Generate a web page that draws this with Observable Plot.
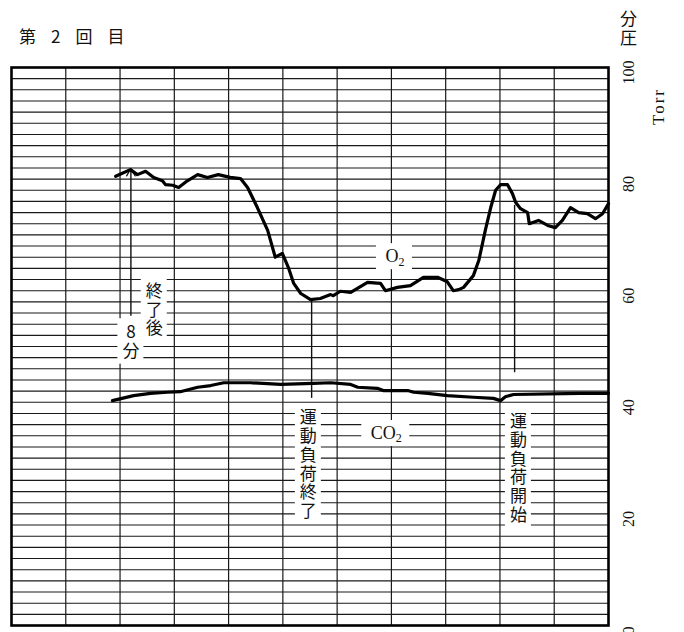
<!DOCTYPE html>
<html><head><meta charset="utf-8">
<script src="https://cdn.jsdelivr.net/npm/d3@7"></script>
<script src="https://cdn.jsdelivr.net/npm/@observablehq/plot@0.6"></script>
<style>
body{margin:0;background:#fff;}
#wrap{position:relative;width:684px;height:632px;overflow:hidden;background:#fff;}
#wrap svg{position:absolute;left:0;top:0;}
.ov{position:absolute;color:#111;white-space:nowrap;}
</style></head><body>
<div id="wrap">
  <div class="ov" style="left:19px;top:27px;font-size:17px;line-height:17px;font-family:'Noto Sans CJK JP';letter-spacing:5.6px;">第 2 回 目</div>
  <div class="ov" style="left:620px;top:9px;font-size:17px;line-height:17px;font-family:'Noto Sans CJK JP';">分</div>
  <div class="ov" style="left:620px;top:28px;font-size:17px;line-height:17px;font-family:'Noto Sans CJK JP';">圧</div>
  <div class="ov" style="left:639px;top:98px;width:38px;text-align:center;font-size:17px;line-height:17px;font-family:'Liberation Serif';letter-spacing:2px;transform:rotate(-90deg);">Torr</div>
</div>
<script>
// ---- data (time in grid divisions, partial pressure in Torr) ----
const o2Time = [1.92,2.19,2.32,2.47,2.62,2.78,2.84,2.97,3.08,3.24,3.43,3.61,3.81,4.03,4.22,4.35,4.53,4.72,4.86,4.99,5.10,5.20,5.33,5.51,5.69,5.88,5.93,6.06,6.25,6.56,6.80,6.89,7.11,7.35,7.59,7.85,8.03,8.14,8.24,8.33,8.51,8.61,8.73,8.83,8.92,9.01,9.14,9.23,9.29,9.38,9.51,9.54,9.71,9.88,10.02,10.15,10.30,10.45,10.61,10.76,10.89,11.0];
const o2Torr = [80.5,81.7,80.8,81.4,80.3,79.7,79.0,78.9,78.5,79.7,80.8,80.3,80.8,80.3,80.1,78.5,74.9,70.8,66.0,66.7,64.2,61.3,59.5,58.4,58.6,59.3,59.1,59.9,59.7,61.5,61.3,60.0,60.6,60.9,62.4,62.4,61.6,60.0,60.2,60.6,62.7,65.4,70.8,74.9,78.0,79.0,79.0,77.4,75.8,74.7,74.0,72.0,72.6,71.7,71.3,72.6,74.9,74.0,73.8,72.9,73.8,75.6];
const co2Time = [1.86,2.25,2.56,2.87,3.11,3.43,3.67,3.91,4.40,4.96,5.56,5.88,6.25,6.38,6.74,6.85,7.30,7.41,7.67,8.03,8.51,8.88,9.01,9.10,9.25,10.48,11.0];
const co2Torr = [40.3,41.2,41.6,41.8,41.9,42.7,43.0,43.5,43.5,43.2,43.4,43.5,43.2,42.7,42.5,42.1,42.1,41.8,41.6,41.2,40.9,40.7,40.3,41.0,41.4,41.6,41.6];
const yTicks = [0,20,40,60,80,100];

// annotation anchors
const arrowTime = [2.2], arrowFrom = [55.6], arrowTo = [81.9];
const markTime = [5.53, 9.27], markTop = [58.2, 75.3], markBottom = [40.7, 45.3];
const vLabelText = ["8分", "終了後", "運動負荷終了", "運動負荷開始"];
const vLabelTime = [2.2, 2.63, 5.47, 9.34];
const vLabelTorr = [50.9, 56.6, 28.9, 28.2];
const gasBase = ["O", "CO"], gasSub = ["2", "2"];
const gasTime = [6.89, 6.62], gasTorr = [66.1, 34.4];

// ---- layout ----
const W = 684, H = 632, mL = 11, mR = 76, mT = 67, mB = 7;
const ux = 11 / (W - mL - mR), uy = 100 / (H - mT - mB); // data units per pixel
const fs = 17, lh = 1.1;

const ctx = document.createElement("canvas").getContext("2d");
const measure = (s, size) => { ctx.font = `${size}px 'Liberation Serif'`; return ctx.measureText(s).width; };

// ---- build tables ----
const o2 = o2Time.map((t, i) => ({t, v: o2Torr[i]}));
const co2 = co2Time.map((t, i) => ({t, v: co2Torr[i]}));
const arrows = arrowTime.map((t, i) => ({t, a: arrowFrom[i], b: arrowTo[i]}));
const marks = markTime.map((t, i) => ({t, a: markTop[i], b: markBottom[i]}));
const vLabels = vLabelText.map((s, i) => ({s: Array.from(s).join("\n"), n: Array.from(s).length, t: vLabelTime[i], v: vLabelTorr[i]}));
const gas = gasBase.map((s, i) => ({s, sub: gasSub[i], t: gasTime[i], v: gasTorr[i], w: measure(s, 18), ws: measure(gasSub[i], 12)}));

// white boxes behind labels (as on the chart paper)
const boxes = [
  ...vLabels.map(d => ({x1: d.t - 13 * ux, x2: d.t + 13 * ux,
    y1: d.v - (d.n * fs * lh / 2 + 4) * uy, y2: d.v + (d.n * fs * lh / 2 + 4) * uy})),
  ...gas.map(d => ({x1: d.t - 9 * ux, x2: d.t + (d.w + d.ws + 8) * ux, y1: d.v - 13 * uy, y2: d.v + 13 * uy}))
];

const plot = Plot.plot({
  width: W, height: H,
  marginLeft: mL, marginRight: mR, marginTop: mT, marginBottom: mB,
  x: {domain: [0, 11], axis: null},
  y: {domain: [0, 100], axis: null},
  style: {background: "transparent", overflow: "visible"},
  marks: [
    Plot.ruleY(d3.range(2, 100, 2), {stroke: "#1a1a1a", strokeWidth: 1.1}),
    Plot.ruleX(d3.range(1, 11), {stroke: "#1a1a1a", strokeWidth: 1.2}),
    Plot.rect(boxes, {x1: "x1", x2: "x2", y1: "y1", y2: "y2", fill: "white"}),
    Plot.frame({stroke: "#000", strokeWidth: 2.6}),
    Plot.text(vLabels, {x: "t", y: "v", text: "s", lineHeight: lh, fontSize: fs,
      fontFamily: "Noto Sans CJK JP", fill: "#111"}),
    Plot.text(gas, {x: "t", y: "v", text: "s", textAnchor: "start", fontSize: 18,
      fontFamily: "Liberation Serif", fill: "#111"}),
    ...gas.map(d => Plot.text([d], {x: "t", y: "v", text: "sub", textAnchor: "start", fontSize: 12,
      dx: d.w, dy: 5, fontFamily: "Liberation Serif", fill: "#111"})),
    Plot.ruleX(marks, {x: "t", y1: "a", y2: "b", stroke: "#111", strokeWidth: 1.4}),
    Plot.arrow(arrows, {x1: "t", y1: "a", x2: "t", y2: "b", stroke: "#111", strokeWidth: 1.4, headLength: 9}),
    Plot.line(o2, {x: "t", y: "v", stroke: "#000", strokeWidth: 3.2, strokeLinejoin: "round", strokeLinecap: "round"}),
    Plot.line(co2, {x: "t", y: "v", stroke: "#000", strokeWidth: 3.2, strokeLinejoin: "round", strokeLinecap: "round"}),
    Plot.text(yTicks, {x: () => 11, y: d => d, text: d => String(d), dx: 20, dy: 5, rotate: -90,
      fontSize: 16, fontFamily: "Liberation Serif", fill: "#111"})
  ]
});
document.getElementById("wrap").appendChild(plot);
</script>
</body></html>
